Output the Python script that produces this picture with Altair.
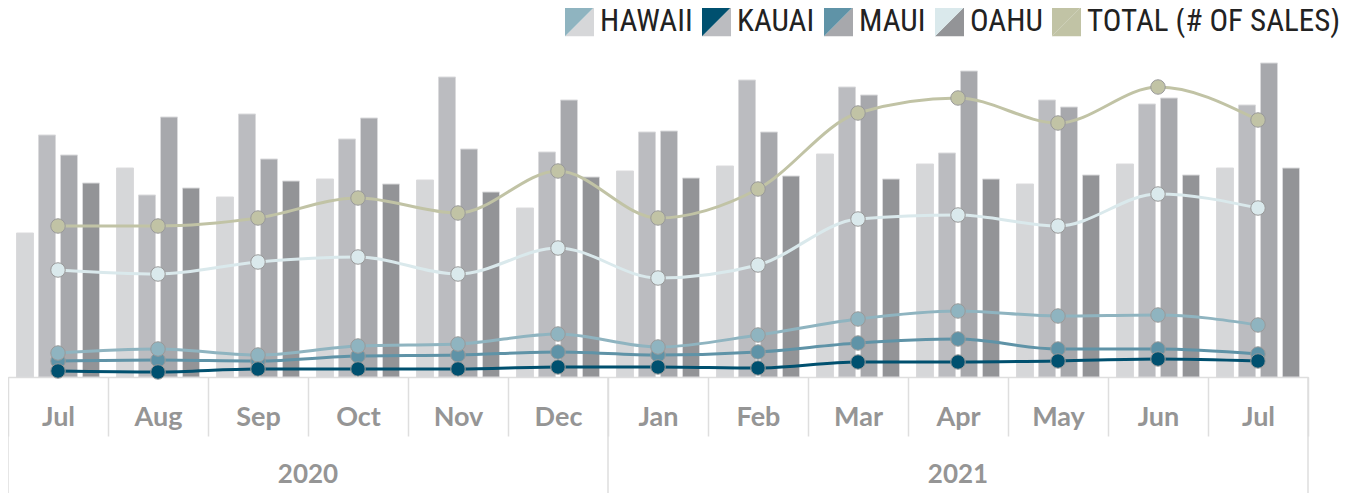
import altair as alt
import pandas as pd

# ---------------- data ----------------
periods = ["Jul 2020", "Aug 2020", "Sep 2020", "Oct 2020", "Nov 2020", "Dec 2020",
           "Jan 2021", "Feb 2021", "Mar 2021", "Apr 2021", "May 2021", "Jun 2021", "Jul 2021"]
islands = ["HAWAII", "KAUAI", "MAUI", "OAHU"]
total_name = "TOTAL (# OF SALES)"

# bars (median price, $K)
price_hawaii = [432, 627, 540, 594, 591, 507, 618, 633, 669, 639, 579, 639, 627]
price_kauai = [726, 546, 789, 714, 900, 675, 735, 891, 870, 672, 831, 819, 816]
price_maui = [666, 780, 654, 777, 684, 831, 738, 735, 846, 918, 810, 837, 942]
price_oahu = [582, 567, 588, 579, 555, 600, 597, 603, 594, 594, 606, 606, 627]

# lines (# of sales)
sales_hawaii = [120, 140, 110, 155, 165, 215, 150, 210, 290, 330, 305, 310, 260]
sales_kauai = [30, 25, 40, 40, 40, 50, 50, 45, 75, 75, 80, 90, 80]
sales_maui = [80, 85, 80, 105, 110, 125, 110, 125, 170, 190, 140, 140, 115]
sales_oahu = [535, 515, 575, 600, 515, 645, 495, 560, 790, 810, 755, 915, 845]
sales_total = [755, 755, 795, 895, 820, 1030, 795, 940, 1320, 1395, 1270, 1450, 1285]

years = ["2020", "2021"]

legend_domain = islands + [total_name]
bar_colors = ["#d6d7d9", "#bbbcc0", "#a7a8ac", "#939497", "#c1c3a5"]
line_colors = ["#8fb4c0", "#00506f", "#5f93a7", "#dae9ec", "#c1c3a5"]

# ---------------- tables ----------------
price_lists = {"HAWAII": price_hawaii, "KAUAI": price_kauai, "MAUI": price_maui, "OAHU": price_oahu}
bars_df = pd.DataFrame([
    {"period": p, "series": s, "price": v}
    for s in islands for p, v in zip(periods, price_lists[s])
])

sales_lists = {"HAWAII": sales_hawaii, "KAUAI": sales_kauai, "MAUI": sales_maui,
               "OAHU": sales_oahu, total_name: sales_total}
draw_order = ["MAUI", "OAHU", total_name, "HAWAII", "KAUAI"]
lines_df = pd.DataFrame([
    {"period": p, "series": s, "sales": v, "ord": draw_order.index(s)}
    for s in draw_order for p, v in zip(periods, sales_lists[s])
])

PLOT_W, PLOT_H = 1300, 327
LABEL_FONT = "Lato"
LEG_FONT = "Liberation Sans Narrow, Roboto Condensed, Roboto, sans-serif"
GRID = "#dedede"


def xenc(band=None):
    kw = {}
    if band is not None:
        kw["bandPosition"] = band
    return alt.X(
        "period:N", sort=periods,
        scale=alt.Scale(paddingInner=0, paddingOuter=0),
        axis=alt.Axis(title=None, labelAngle=0,
                      labelExpr="split(datum.label, ' ')[0]",
                      labelFont=LABEL_FONT, labelFontSize=27, labelFontWeight="bold",
                      labelColor="#959595", labelBaseline="middle", labelPadding=-19,
                      tickBand="extent", tickSize=59, tickColor=GRID, tickWidth=1.5,
                      domainColor=GRID, domainWidth=1.5, grid=False),
        **kw)


legend_common = dict(orient="none", legendX=556, legendY=-44, direction="horizontal",
                     title=None, symbolSize=841, symbolStrokeWidth=0,
                     labelFont=LEG_FONT, labelFontSize=31,
                     labelOffset=5, columnPadding=8, labelLimit=400, symbolOpacity=1,
                     values=legend_domain)

bars = alt.Chart(bars_df).mark_bar(stroke="#dadadc", strokeWidth=1).encode(
    x=xenc(),
    xOffset=alt.XOffset("series:N", sort=islands,
                        scale=alt.Scale(paddingInner=0.227, paddingOuter=0.386)),
    y=alt.Y("price:Q", scale=alt.Scale(domain=[0, PLOT_H * 3], nice=False), axis=None),
    color=alt.Color("series:N",
                    scale=alt.Scale(domain=legend_domain, range=bar_colors),
                    legend=alt.Legend(symbolType="M1,-1L1,1L-1,1Z", labelColor="#222222",
                                      **legend_common)),
)

y_sales = alt.Y("sales:Q", scale=alt.Scale(domain=[0, PLOT_H * 5], nice=False), axis=None)

# each colour scale gets a distinct (unused) tail entry so that Vega-Lite does
# not merge their legends together
fill_domain = legend_domain + ["~"]
fill_range = line_colors + ["#ffffff"]
stroke_domain = legend_domain + ["~~"]
stroke_range = line_colors + ["#ffffff"]

lines = alt.Chart(lines_df).mark_line(strokeWidth=3, interpolate="monotone").encode(
    x=xenc(),
    y=y_sales,
    stroke=alt.Stroke("series:N", scale=alt.Scale(domain=stroke_domain, range=stroke_range),
                      legend=None),
    order=alt.Order("ord:Q"),
)

points = alt.Chart(lines_df).mark_circle(size=210, opacity=1, stroke="#9a9a9a",
                                         strokeWidth=1).encode(
    x=xenc(),
    y=y_sales,
    fill=alt.Fill("series:N", scale=alt.Scale(domain=fill_domain, range=fill_range),
                  legend=alt.Legend(symbolType="M-1,-1L1,-1L-1,1Z", labelOpacity=0,
                                    labelColor="#222222", **legend_common)),
    order=alt.Order("ord:Q"),
)

# year row
sep_start = alt.Chart(pd.DataFrame({"period": ["Jul 2020", "Jan 2021"]})).mark_rule(
    color=GRID, strokeWidth=1.5).encode(
    x=xenc(0), y=alt.value(PLOT_H), y2=alt.value(PLOT_H + 120))
sep_end = alt.Chart(pd.DataFrame({"period": ["Jul 2021"]})).mark_rule(
    color=GRID, strokeWidth=1.5).encode(
    x=xenc(1), y=alt.value(PLOT_H), y2=alt.value(PLOT_H + 120))

year_text_style = dict(font=LABEL_FONT, fontSize=26, fontWeight="bold", color="#959595",
                       baseline="middle", align="center")
year1 = alt.Chart(pd.DataFrame({"period": ["Oct 2020"], "year": [years[0]]})).mark_text(
    **year_text_style).encode(x=xenc(0), y=alt.value(PLOT_H + 98), text="year:N")
year2 = alt.Chart(pd.DataFrame({"period": ["Apr 2021"], "year": [years[1]]})).mark_text(
    **year_text_style).encode(x=xenc(0.5), y=alt.value(PLOT_H + 98), text="year:N")

chart = alt.layer(bars, lines, points, sep_start, sep_end, year1, year2).resolve_scale(
    y="independent"
).properties(
    width=PLOT_W, height=PLOT_H,
    autosize=alt.AutoSizeParams(type="none"),
    padding={"left": 0, "top": 42, "right": 46, "bottom": 116},
).configure_view(stroke=None)

chart.save("out.html", embed_options={"renderer": "svg", "actions": False})
